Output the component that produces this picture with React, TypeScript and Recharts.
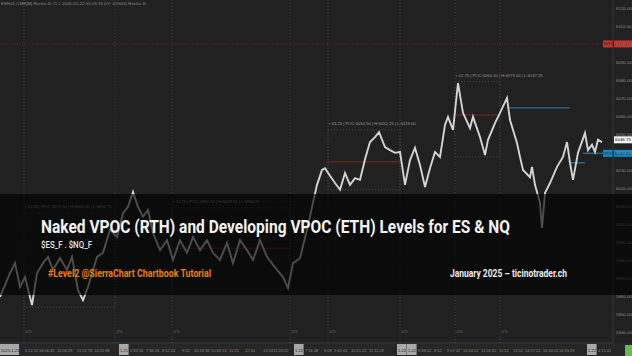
import React from 'react';
import { ComposedChart, Line, XAxis, YAxis, ReferenceLine, ReferenceArea } from 'recharts';

// Renko close path (bar index -> price)
const barIndex = [0, 10, 15, 20, 25, 32, 37, 43, 48, 53, 60, 67, 72, 78, 83, 88, 97, 103, 110, 117, 123, 128, 133, 138, 143, 148, 153, 160, 167, 173, 180, 187, 193, 200, 207, 213, 220, 227, 233, 240, 247, 253, 260, 267, 277, 283, 288, 293, 300, 307, 313, 317, 322, 325, 330, 335, 340, 345, 350, 355, 360, 365, 370, 375, 379, 385, 390, 395, 400, 405, 410, 415, 420, 425, 430, 435, 440, 445, 448, 453, 458, 463, 470, 473, 480, 485, 488, 495, 500, 507, 510, 517, 520, 523, 530, 532, 535, 540, 542, 545, 550, 557, 563, 567, 570, 573, 578, 585, 588, 592, 595, 598, 602];
const closePrice = [5959.5, 5972.75, 5978.25, 5965.0, 5970.5, 5955.0, 5972.75, 5978.25, 5981.75, 5974.5, 5981.0, 5974.5, 5981.75, 5963.25, 5957.75, 5965.0, 5981.75, 5984.0, 5996.75, 5992.75, 6006.0, 6009.5, 6017.75, 6009.5, 6004.0, 6007.75, 5995.0, 5985.5, 5991.0, 5980.0, 5991.0, 5984.0, 5992.75, 5985.5, 5991.0, 5984.0, 5980.0, 5989.5, 5978.25, 5991.0, 5985.5, 5980.0, 5991.0, 5981.75, 5974.5, 5970.5, 5964.5, 5978.25, 5981.0, 5996.75, 6011.75, 6021.75, 6030.0, 6031.0, 6026.75, 6022.75, 6019.0, 6028.25, 6021.75, 6025.5, 6024.5, 6036.0, 6045.5, 6048.25, 6051.0, 6042.75, 6041.0, 6039.5, 6040.0, 6021.75, 6035.5, 6042.25, 6032.75, 6020.5, 6031.0, 6040.0, 6037.25, 6055.0, 6059.5, 6052.25, 6078.25, 6061.75, 6053.25, 6059.5, 6048.25, 6038.25, 6046.75, 6056.0, 6061.75, 6070.0, 6057.75, 6045.0, 6037.25, 6030.0, 6026.0, 6031.75, 6021.75, 6011.75, 5997.75, 6017.25, 6022.75, 6031.75, 6037.25, 6045.5, 6034.0, 6024.5, 6039.5, 6050.5, 6041.0, 6044.0, 6040.0, 6046.75, 6045.5];

const priceTicks = [5940, 5950, 5960, 5970, 5980, 5990, 6000, 6010, 6020, 6030, 6040, 6050, 6060, 6070, 6080, 6090, 6100, 6110, 6120];

const sessionStartBars = [24, 115, 172, 290, 328, 400, 455, 500];
const sessionBoxStart = [24, 172, 328, 455];
const sessionBoxEnd = [115, 290, 400, 500];
const sessionHigh = [6006.0, 6009.0, 6052.25, 6079.0];
const sessionLow = [5953.75, 5964.25, 6019.0, 6037.25];
const sessionPoc: (number | null)[] = [null, 5986.5, 6034.5, 6060.5];
const sessionInfo = [
  'r 52.25 | POC:5974.50 | H:6006.00 | L:5953.75',
  'r 44.75 | POC:5986.50 | H:6009.00 | L:5964.25',
  'r 33.25 | POC:6034.50 | H:6052.25 | L:6019.00',
  'r 41.75 | POC:6060.50 | H:6079.00 | L:6037.25',
];

const nvpocPrice = 6100;
const lastPrice = 6046.75;
const dpocPrice = 6039.25;
const dpocSegStart = [507, 570, 583];
const dpocSegEnd = [570, 585, 603];
const dpocSegPrice = [6064.5, 6034.0, 6039.25];

const timeTickBars = [0, 24, 38, 56, 76, 93, 119, 129, 145, 161, 181, 193, 210, 228, 244, 262, 272, 294, 304, 323, 333, 350, 368, 397, 407, 417, 433, 446, 462, 480, 498, 512, 524, 542, 558, 587, 597];
const timeTickLabels = ['2025-1-21', '6:51:52', '16:06:45', '16:56:28', '11:51:78', '14:33:38', '1-21', '1:33:16', '7:36:24', '8:52:24', '9:52', '10:18:38', '10:49:13', '11:25', '12:34', '13:53', '15:26:52', '1-22', '7:56:48', '9:28', '9:45:01', '10:21:22', '11:11:29', '1-22', '1-22', '8:38:02', '8:52', '9:07:42', '10:44:02', '11:26:55', '11:52', '13:52', '14:57:21', '16:00:05', '16:33:28', '1-22', '4:15:01'];

const headerText = 'ESH25-CME[M]  Renko 4t #1 # 2025-01-22 05:18:19  DV: 419000  Renko 4t';
const titleText = 'Naked VPOC (RTH) and Developing VPOC (ETH) Levels for ES & NQ';
const subtitleText = '$ES_F . $NQ_F';
const tagText = '#Level2 @SierraChart Chartbook Tutorial';
const creditText = 'January 2025 \u2013 ticinotrader.ch';

const data = barIndex.map((b, i) => ({ bar: b, price: closePrice[i] }));

const small = { fontFamily: '"Liberation Sans Narrow", sans-serif', fontSize: 4.4 };

const TimeTick = (props: any) => {
  const { x, payload, index } = props;
  const label = timeTickLabels[index] ?? String(payload.value);
  const isDate = label.includes('-');
  const w = label.length * 1.9 + 2;
  return (
    <g>
      {isDate && <rect x={x} y={344} width={w} height={11} fill="#a8a8a8" />}
      <text x={x + 1} y={351.5} fill={isDate ? '#202020' : '#8a8a8a'} style={{ ...small, fontSize: 4 }}>
        {label}
      </text>
    </g>
  );
};

const PriceTick = (props: any) => {
  const { x, y, payload } = props;
  return (
    <text x={x} y={y + 1.6} fill="#8c8c8c" style={small}>
      {Number(payload.value).toFixed(2)}
    </text>
  );
};

const levelLabel = (tag: string | null, text: string, fill: string, textFill: string) => (p: any) => {
  const vb = p.viewBox || {};
  const xr = 613;
  const y = vb.y ?? 0;
  return (
    <g>
      {tag && <rect x={xr - 10} y={y - 3.5} width={10} height={7} fill={fill} />}
      {tag && (
        <text x={xr - 9.5} y={y + 1.4} fill={textFill} style={{ ...small, fontSize: 3.6 }}>
          {tag}
        </text>
      )}
      <rect x={xr + 1} y={y - 3.5} width={18} height={7} fill={fill} />
      <text x={xr + 2} y={y + 1.6} fill={textFill} style={small}>{text}</text>
    </g>
  );
};

const zeroPct = (p: any) => {
  const vb = p.viewBox || {};
  return (
    <text x={(vb.x ?? 0) + 1.5} y={333} fill="#6e6e6e" style={small}>0%</text>
  );
};

const infoLabel = (text: string) => (p: any) => {
  const vb = p.viewBox || {};
  return (
    <text x={(vb.x ?? 0) + 1} y={(vb.y ?? 0) - 5} fill="#9a9a9a" style={{ ...small, fontSize: 4.2 }}>{text}</text>
  );
};

export default function App() {
  return (
    <div style={{ position: 'absolute', left: 0, top: 0, width: 632, height: 356, background: '#212121', overflow: 'hidden' }}>
      <div style={{ position: 'absolute', left: 0, top: 343, width: 632, height: 13, background: '#262626' }} />
      <div style={{ position: 'absolute', left: 0, top: 0 }}>
        <ComposedChart width={632} height={356} data={data} margin={{ top: 0, right: 0, bottom: 0, left: 0 }}>
          <XAxis
            dataKey="bar"
            type="number"
            domain={[0, 613]}
            allowDataOverflow
            ticks={timeTickBars}
            interval={0}
            tick={<TimeTick />}
            height={13}
            tickLine={false}
            tickSize={0}
            axisLine={{ stroke: '#3a3a3a' }}
          />
          <YAxis
            orientation="right"
            width={19}
            type="number"
            domain={[5933.9, 6124.4]}
            allowDataOverflow
            ticks={priceTicks}
            interval={0}
            tick={<PriceTick />}
            tickLine={false}
            tickSize={0}
            tickMargin={3}
            axisLine={{ stroke: '#3a3a3a' }}
          />
          {sessionStartBars.map((b) => (
            <ReferenceLine key={'s' + b} x={b} stroke="#3c3c3c" strokeDasharray="1 2" label={zeroPct} />
          ))}
          {sessionBoxStart.map((b, i) => (
            <ReferenceArea
              key={'box' + b}
              x1={b}
              x2={sessionBoxEnd[i]}
              y1={sessionLow[i]}
              y2={sessionHigh[i]}
              fill="none"
              stroke="#4a4a4a"
              strokeDasharray="1 2"
              label={infoLabel(sessionInfo[i])}
            />
          ))}
          {sessionBoxStart.map((b, i) =>
            sessionPoc[i] == null ? null : (
              <ReferenceLine
                key={'poc' + b}
                segment={[{ x: b, y: sessionPoc[i] as number }, { x: sessionBoxEnd[i], y: sessionPoc[i] as number }]}
                stroke="#7a2a24"
                strokeWidth={1}
              />
            )
          )}
          <ReferenceLine
            y={nvpocPrice}
            stroke="#7a2a24"
            strokeDasharray="1 1.5"
            label={levelLabel('NVPOC', nvpocPrice.toFixed(2), '#c8362b', '#3a0e0a')}
          />
          {dpocSegStart.map((b, i) => (
            <ReferenceLine
              key={'dp' + b}
              segment={[{ x: b, y: dpocSegPrice[i] }, { x: dpocSegEnd[i], y: dpocSegPrice[i] }]}
              stroke="#1c6f9e"
              strokeWidth={1.4}
            />
          ))}
          <ReferenceLine y={dpocPrice} stroke="none" label={levelLabel('DPOC', dpocPrice.toFixed(2), '#1488c8', '#0a2a40')} />
          <ReferenceLine y={lastPrice} stroke="none" label={levelLabel(null, lastPrice.toFixed(2), '#f2f2f2', '#111111')} />
          <Line
            dataKey="price"
            type="linear"
            stroke="#d4d4d4"
            strokeWidth={1.9}
            strokeLinejoin="miter"
            dot={false}
            isAnimationActive={false}
          />
        </ComposedChart>
      </div>
      <svg width={632} height={356} style={{ position: 'absolute', left: 0, top: 0 }}>
        <text x={1} y={4.5} fill="#8a8a8a" style={small}>{headerText}</text>
        <rect x={0} y={194} width={632} height={101} fill="#000000" fillOpacity={0.64} />
        <text x={41} y={233} fill="#f2f2f2" fontFamily="Roboto, sans-serif" fontWeight={700} fontSize={18} textLength={469} lengthAdjust="spacingAndGlyphs">{titleText}</text>
        <text x={41} y={248} fill="#e8e8e8" fontFamily="Roboto, sans-serif" fontWeight={500} fontSize={9.5} textLength={51} lengthAdjust="spacingAndGlyphs">{subtitleText}</text>
        <text x={48} y={277} fill="#e8810f" fontFamily="Roboto, sans-serif" fontWeight={700} fontSize={11} textLength={163} lengthAdjust="spacingAndGlyphs">{tagText}</text>
        <text x={450} y={277} fill="#ececec" fontFamily="Roboto, sans-serif" fontWeight={700} fontSize={11} textLength={117} lengthAdjust="spacingAndGlyphs">{creditText}</text>
        <rect x={625} y={345} width={7} height={11} fill="#5fbf4a" />
      </svg>
    </div>
  );
}
